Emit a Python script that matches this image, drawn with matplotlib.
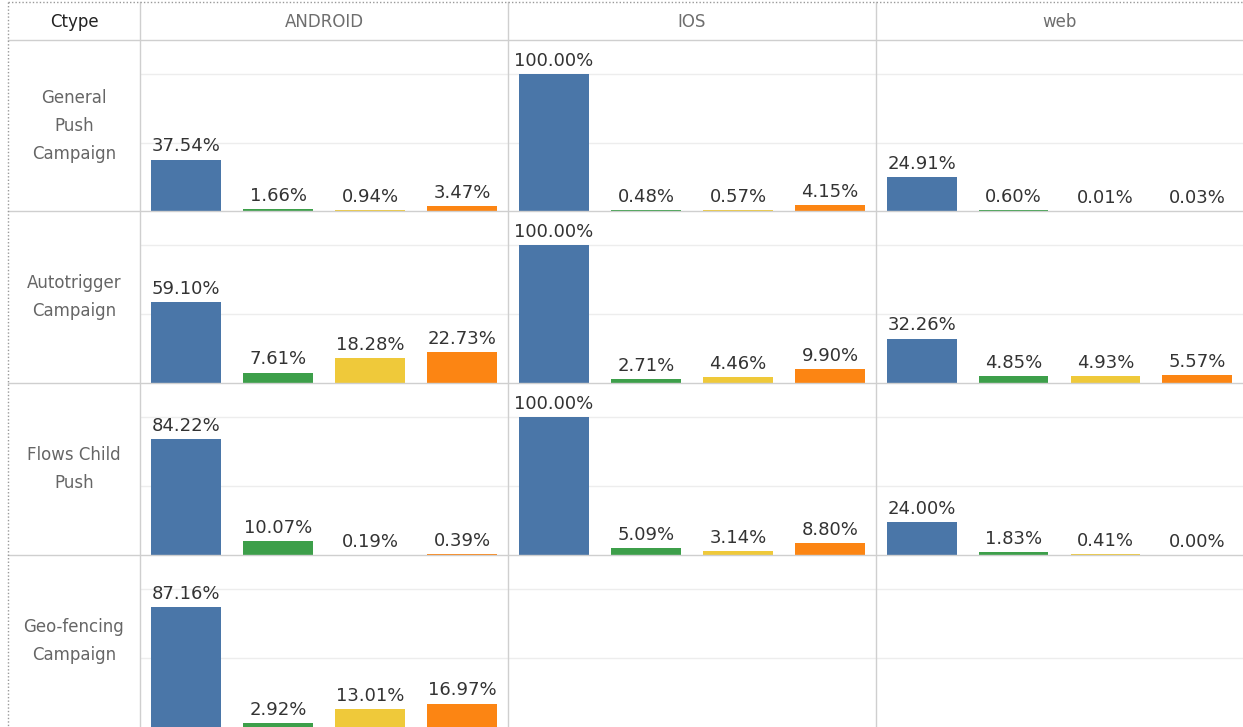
import matplotlib
matplotlib.use("Agg")
import matplotlib.pyplot as plt
from matplotlib.lines import Line2D

plt.rcParams['font.family'] = ['DejaVu Sans']

platforms = ["ANDROID", "IOS", "web"]
ctypes = ["General\nPush\nCampaign", "Autotrigger\nCampaign", "Flows Child\nPush", "Geo-fencing\nCampaign"]

# values in percent, rows = ctypes, cols = platforms (None = no data)
measure_blue = [[37.54, 100.00, 24.91],
                [59.10, 100.00, 32.26],
                [84.22, 100.00, 24.00],
                [87.16, None, None]]
measure_green = [[1.66, 0.48, 0.60],
                 [7.61, 2.71, 4.85],
                 [10.07, 5.09, 1.83],
                 [2.92, None, None]]
measure_yellow = [[0.94, 0.57, 0.01],
                  [18.28, 4.46, 4.93],
                  [0.19, 3.14, 0.41],
                  [13.01, None, None]]
measure_orange = [[3.47, 4.15, 0.03],
                  [22.73, 9.90, 5.57],
                  [0.39, 8.80, 0.00],
                  [16.97, None, None]]

colors = ["#4a76a8", "#3d9f4a", "#efc93a", "#fc8513"]
measures = [measure_blue, measure_green, measure_yellow, measure_orange]

W, H = 1243, 727
fig = plt.figure(figsize=(W / 100, H / 100), dpi=100)
fig.patch.set_facecolor("white")

col_edges = [140, 508, 876, 1243]
row_edges = [40, 211, 383, 555, 727]
left_edge, top_edge = 8, 2

def fx(x):
    return x / W

def fy(y):
    return 1 - y / H

# cells
for r in range(len(ctypes)):
    for c in range(len(platforms)):
        x0, x1 = col_edges[c], col_edges[c + 1]
        y0, y1 = row_edges[r], row_edges[r + 1]
        ax = fig.add_axes([fx(x0), fy(y1), fx(x1 - x0), (y1 - y0) / H])
        ax.set_xlim(-0.5, 3.5)
        ax.set_ylim(0, 125)
        for s in ax.spines.values():
            s.set_visible(False)
        ax.set_xticks([])
        ax.set_yticks([50, 100])
        ax.tick_params(left=False, labelleft=False)
        ax.grid(axis="y", color="#ededed", linewidth=1.0, zorder=0)
        ax.set_axisbelow(True)
        ax.patch.set_alpha(0)
        vals = [m[r][c] for m in measures]
        if vals[0] is None:
            continue
        xs = list(range(4))
        ax.bar(xs, vals, width=0.76, color=colors, zorder=3)
        for xi, v in zip(xs, vals):
            ax.annotate(f"{v:.2f}%", (xi, v), xytext=(0, 3), textcoords="offset points",
                        ha="center", va="bottom", fontsize=13, color="#333333",
                        clip_on=False, zorder=4)

# table lines
line_color = "#cfcfcf"
for y in row_edges[:-1]:
    fig.add_artist(Line2D([fx(left_edge), 1], [fy(y), fy(y)], color=line_color, lw=1.0))
for x in col_edges[:-1]:
    fig.add_artist(Line2D([fx(x), fx(x)], [fy(top_edge), 0], color=line_color, lw=1.0))
# dotted outer border
fig.add_artist(Line2D([fx(left_edge), 1], [fy(top_edge), fy(top_edge)], color="#999999", lw=1.0, linestyle=(0, (1, 1.5))))
fig.add_artist(Line2D([fx(left_edge), fx(left_edge)], [fy(top_edge), 0], color="#999999", lw=1.0, linestyle=(0, (1, 1.5))))

# headers
fig.text(fx((left_edge + col_edges[0]) / 2), fy((top_edge + row_edges[0]) / 2 + 1), "Ctype",
         ha="center", va="center", fontsize=12, color="#222222")
for c, p in enumerate(platforms):
    fig.text(fx((col_edges[c] + col_edges[c + 1]) / 2), fy((top_edge + row_edges[0]) / 2 + 1), p,
             ha="center", va="center", fontsize=12, color="#6e6e6e")

row_label_y = [126, 297, 469, 641]
for r, name in enumerate(ctypes):
    fig.text(fx((left_edge + col_edges[0]) / 2), fy(row_label_y[r]), name,
             ha="center", va="center", fontsize=12, color="#666666", linespacing=1.72)

fig.savefig("out.png", dpi=100)
